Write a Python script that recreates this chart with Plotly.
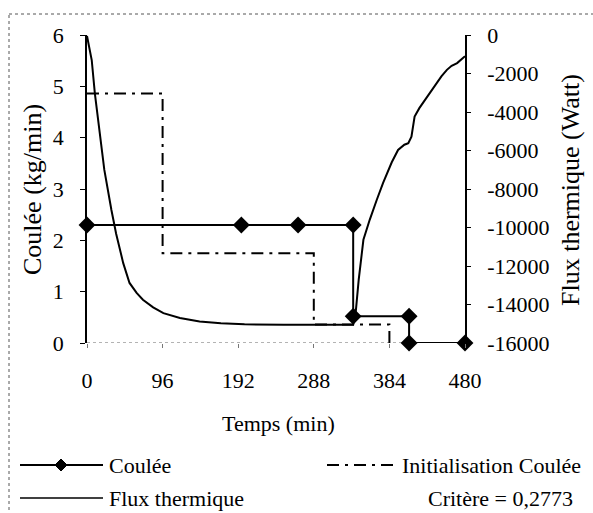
import plotly.graph_objects as go

# Coulée (kg/min) – optimised casting rate, stepwise
coulee_t = [0, 196, 268, 338, 338, 409, 409, 480]
coulee_v = [2.3, 2.3, 2.3, 2.3, 0.52, 0.52, 0.0, 0.0]

# Initialisation Coulée (kg/min) – initial casting profile
init_t = [0, 96, 96, 288, 288, 384, 384]
init_v = [4.86, 4.86, 1.75, 1.75, 0.36, 0.36, 0.0]

# Flux thermique (Watt)
flux_t = [0, 2, 6, 10, 16, 22, 31, 37, 46, 54, 63, 71, 84, 97, 118, 143, 170,
          200, 250, 300, 338, 341, 345, 351, 359, 368, 376, 387, 395, 403, 408,
          412, 416, 422, 429, 436, 444, 450, 457, 463, 470, 475, 480]
flux_w = [-50, -500, -1300, -3040, -4930, -7010, -9090, -10320, -11850, -12880,
          -13400, -13750, -14150, -14450, -14700, -14880, -14980, -15030, -15050,
          -15050, -15050, -14500, -12720, -10640, -9600, -8560, -7680, -6610,
          -5970, -5700, -5620, -5280, -4240, -3800, -3380, -2950, -2510, -2150,
          -1810, -1600, -1460, -1300, -1100]

x_ticks = [0, 96, 192, 288, 384, 480]
left_ticks = [0, 1, 2, 3, 4, 5, 6]
right_ticks = [0, -2000, -4000, -6000, -8000, -10000, -12000, -14000, -16000]

FONT = "Liberation Serif"
DASHDOT = "12px,6px,3px,6px"

fig = go.Figure()
fig.add_trace(go.Scatter(x=init_t, y=init_v, mode="lines", name="Initialisation Coulée",
                         line=dict(color="black", width=2, dash=DASHDOT),
                         cliponaxis=False, showlegend=False))
fig.add_trace(go.Scatter(x=flux_t, y=flux_w, yaxis="y2", mode="lines", name="Flux thermique",
                         line=dict(color="black", width=2), showlegend=False))
fig.add_trace(go.Scatter(x=coulee_t, y=coulee_v, mode="lines+markers", name="Coulée",
                         line=dict(color="black", width=2),
                         marker=dict(symbol="diamond", size=13, color="black"),
                         cliponaxis=False, showlegend=False))

L, R, T, B = 87, 128, 35, 170
W, H = 593, 513
pw, ph = W - L - R, H - T - B


def px(x):
    return (x - L) / pw


def py(y):
    return (H - B - y) / ph


fig.update_layout(
    width=W, height=H,
    margin=dict(l=L, r=R, t=T, b=B, pad=0),
    paper_bgcolor="white", plot_bgcolor="white",
    font=dict(family=FONT, size=22, color="black"),
    showlegend=False,
    xaxis=dict(range=[0, 480], tickvals=x_ticks, ticks="outside", ticklen=4,
               tickcolor="#777", showline=False, showgrid=False, zeroline=False,
               ticklabelstandoff=14),
    yaxis=dict(range=[0, 6], tickvals=left_ticks, ticks="outside", ticklen=5,
               tickcolor="black", showline=True, linecolor="black", linewidth=1.5,
               showgrid=False, zeroline=False, ticklabelstandoff=12),
    yaxis2=dict(range=[-16000, 0], tickvals=right_ticks,
                ticktext=[str(v) for v in right_ticks],
                overlaying="y", side="right",
                ticks="outside", ticklen=4, tickcolor="black", showline=True,
                linecolor="black", linewidth=1.5, showgrid=False, zeroline=False,
                ticklabelstandoff=12),
)

shapes = []
# dotted baseline at y = 0
shapes.append(dict(type="line", xref="x", yref="y", x0=0, x1=480, y0=0, y1=0,
                   line=dict(color="#666", width=1, dash="dot"), layer="below"))
# dotted outer frame
shapes.append(dict(type="rect", xref="paper", yref="paper",
                   x0=px(9), x1=px(600), y0=py(14), y1=py(520),
                   line=dict(color="#555", width=1, dash="dot")))

# legend samples
r1, r2 = 465, 498
shapes.append(dict(type="line", xref="paper", yref="paper", x0=px(20), x1=px(103),
                   y0=py(r1), y1=py(r1), line=dict(color="black", width=2)))
d = 6
shapes.append(dict(type="path", xref="paper", yref="paper",
                   path=f"M {px(61)},{py(r1 - d)} L {px(61 + d)},{py(r1)} "
                        f"L {px(61)},{py(r1 + d)} L {px(61 - d)},{py(r1)} Z",
                   fillcolor="black", line=dict(color="black", width=1)))
shapes.append(dict(type="line", xref="paper", yref="paper", x0=px(20), x1=px(103),
                   y0=py(r2), y1=py(r2), line=dict(color="black", width=1.5)))
shapes.append(dict(type="line", xref="paper", yref="paper", x0=px(327), x1=px(398),
                   y0=py(r1), y1=py(r1), line=dict(color="black", width=2, dash=DASHDOT)))
fig.update_layout(shapes=shapes)


def label(text, x, y, xanchor="center", size=22, angle=0):
    return dict(text=text, x=px(x), y=py(y), xref="paper", yref="paper",
                xanchor=xanchor, yanchor="middle", showarrow=False,
                textangle=angle, font=dict(size=size))


ann = [
    label("Temps (min)", 278, 423),
    label("Coulée (kg/min)", 32, 190, size=26, angle=-90),
    label("Flux thermique (Watt)", 570, 190, size=26, angle=-90),
    label("Coulée", 107, r1, xanchor="left"),
    label("Flux thermique", 107, r2, xanchor="left"),
    label("Initialisation Coulée", 583, r1, xanchor="right"),
    label("Critère = 0,2773", 575, r2, xanchor="right"),
]
fig.update_layout(annotations=ann)

fig.write_html("out.html")
